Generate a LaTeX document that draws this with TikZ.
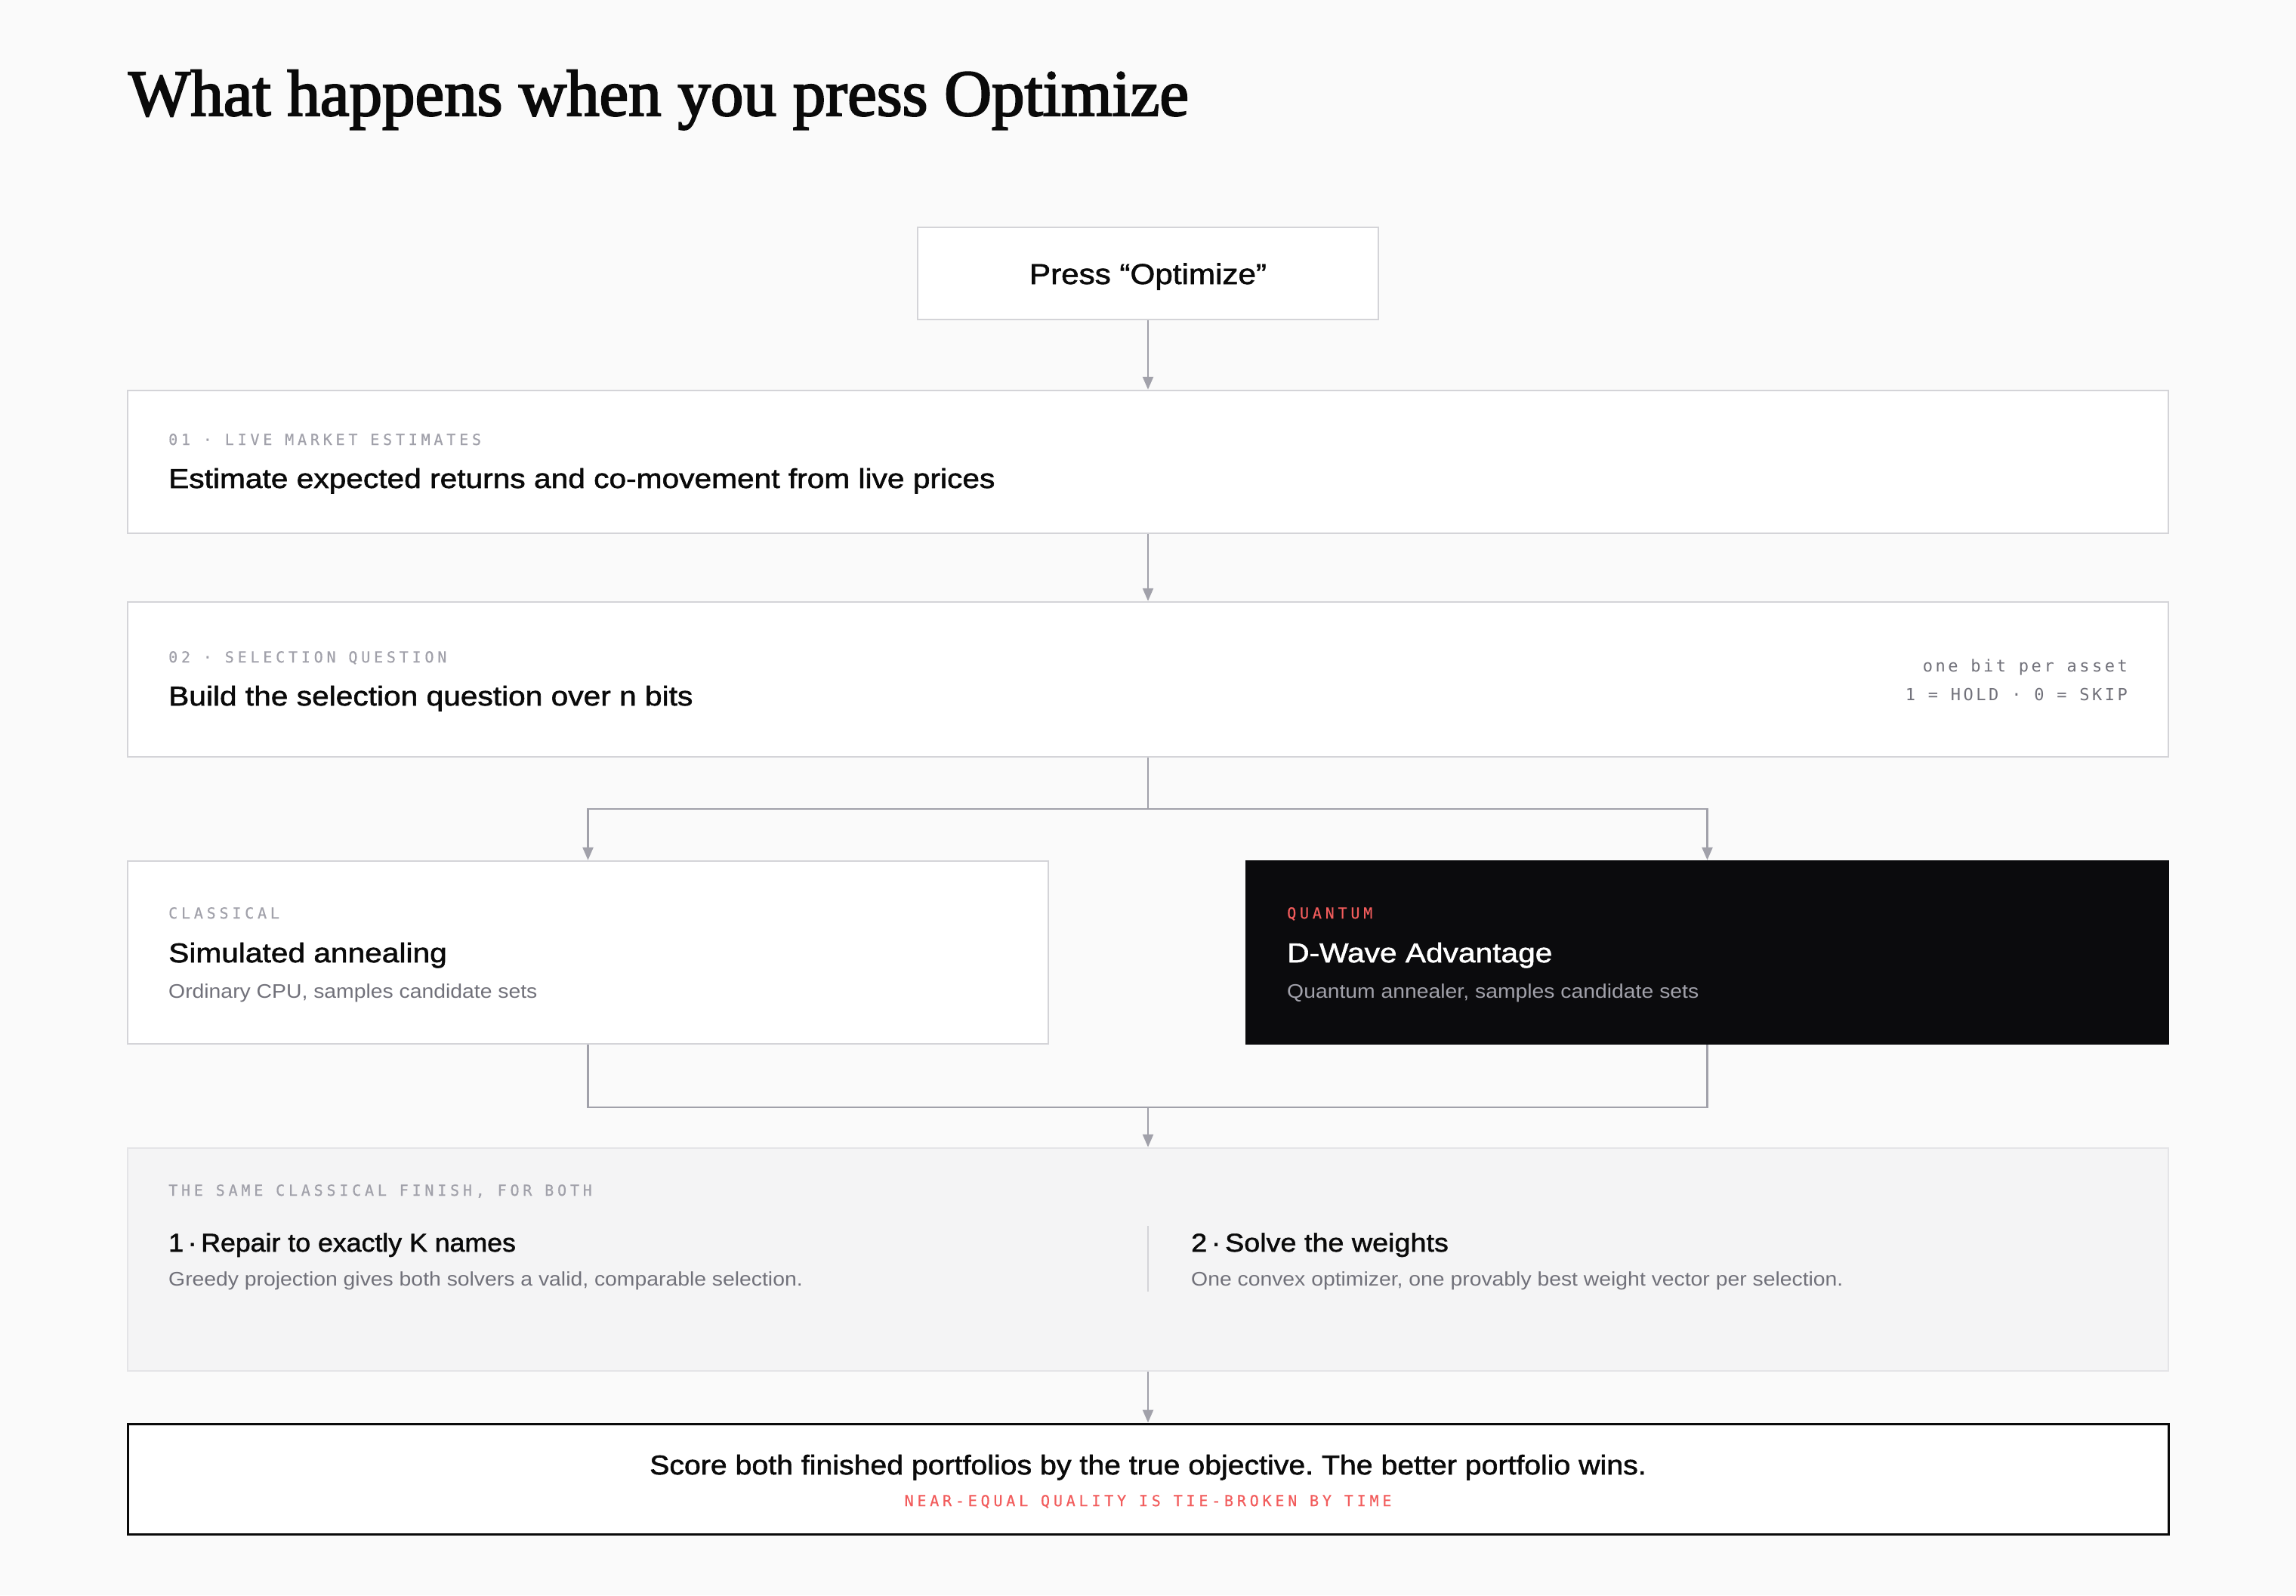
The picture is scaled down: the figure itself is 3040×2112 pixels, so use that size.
\documentclass[tikz,border=0pt]{standalone}
\usepackage{fontspec}
\setmainfont{Liberation Sans}
\newfontfamily\titlefont[FakeBold=2.5]{Liberation Serif}
\newfontfamily\headfont[FakeStretch=1.13,FakeBold=1.6]{Liberation Sans}
\newfontfamily\pressfont[FakeStretch=1.11,FakeBold=1.6]{Liberation Sans}
\newfontfamily\narrowfont[FakeStretch=1.05,FakeBold=1.6]{Liberation Sans}
\newfontfamily\scorefont[FakeStretch=1.09,FakeBold=1.6]{Liberation Sans}
\newfontfamily\subfont[FakeStretch=1.09]{Liberation Sans}
\newfontfamily\lblfont[LetterSpace=24,FakeBold=0.6]{DejaVu Sans Mono}
\newfontfamily\notefont[LetterSpace=16]{DejaVu Sans Mono}
\usetikzlibrary{arrows.meta}
\definecolor{bg}{HTML}{FAFAFA}
\definecolor{edge}{HTML}{D4D4D8}
\definecolor{conn}{HTML}{A1A1AA}
\definecolor{muted}{HTML}{71717A}
\definecolor{faint}{HTML}{A1A1AA}
\definecolor{ink}{HTML}{0A0A0A}
\definecolor{dark}{HTML}{0B0B0D}
\definecolor{accent}{HTML}{F25C5C}
\definecolor{panel}{HTML}{F4F4F5}
\definecolor{paneledge}{HTML}{E4E4E7}
\begin{document}
\frenchspacing
\begin{tikzpicture}[x=1pt,y=-1pt,
 box/.style={rectangle, inner sep=0pt, draw=edge, line width=2.5pt, fill=white},
 txt/.style={inner sep=0pt, anchor=base west},
 lbl/.style={txt, font=\lblfont\fontsize{20pt}{24pt}\selectfont, text=faint},
 note/.style={inner sep=0pt, anchor=base east, font=\notefont\fontsize{22pt}{26pt}\selectfont, text=muted},
 head/.style={txt, font=\headfont\fontsize{36pt}{42pt}\selectfont, text=ink},
 step head/.style={txt, font=\pressfont\fontsize{34pt}{40pt}\selectfont, text=ink},
 sub/.style={txt, font=\subfont\fontsize{26pt}{30pt}\selectfont, text=muted},
 link/.style={draw=conn, line width=2.5pt},
 arr/.style={link, -{Triangle[length=17pt,width=14pt]}},
]
\fill[bg] (0,0) rectangle (3040,2112);
\useasboundingbox (0,0) rectangle (3040,2112);

\node[txt, font=\titlefont\fontsize{87pt}{92pt}\selectfont, text=ink] (title) at (170,153) {What happens when you press Optimize};

% boxes
\node[box, minimum width=610pt, minimum height=122pt] (press) at (1520,362) {};
\node[inner sep=0pt, anchor=base, font=\pressfont\fontsize{38pt}{44pt}\selectfont, text=ink] (presst) at (1520,376) {Press “Optimize”};

\node[box, minimum width=2702pt, minimum height=189pt] (b1) at (1520,611.5) {};
\node[lbl] (b1l) at (223,589) {01 · LIVE MARKET ESTIMATES};
\node[head] (b1h) at (223,646) {Estimate expected returns and co-movement from live prices};

\node[box, minimum width=2702pt, minimum height=205pt] (b2) at (1520,899.5) {};
\node[lbl] (b2l) at (223,877) {02 · SELECTION QUESTION};
\node[head] (b2h) at (223,934) {Build the selection question over n bits};
\node[note] (b2n1) at (2817,889) {one bit per asset};
\node[note] (b2n2) at (2817,927) {1 = HOLD · 0 = SKIP};

\node[box, minimum width=1219pt, minimum height=242pt] (cl) at (778.5,1261) {};
\node[lbl] (cll) at (223,1216) {CLASSICAL};
\node[head] (clh) at (223,1274) {Simulated annealing};
\node[sub] (cls) at (223,1321) {Ordinary CPU, samples candidate sets};

\node[box, draw=dark, fill=dark, minimum width=1221pt, minimum height=242pt] (qu) at (2260.5,1261) {};
\node[lbl, text=accent] (qul) at (1704,1216) {QUANTUM};
\node[head, text=white] (quh) at (1704,1274) {D-Wave Advantage};
\node[sub, text=faint] (qus) at (1704,1321) {Quantum annealer, samples candidate sets};

\node[box, draw=paneledge, fill=panel, minimum width=2702pt, minimum height=295pt] (fin) at (1520,1667.5) {};
\node[lbl] (finl) at (223,1583) {THE SAME CLASSICAL FINISH, FOR BOTH};
\node[step head, font=\narrowfont\fontsize{34pt}{40pt}\selectfont] (fh1) at (223,1657) {1\,·\,Repair to exactly K names};
\node[sub] (fs1) at (223,1702) {Greedy projection gives both solvers a valid, comparable selection.};
\coordinate (dv1) at (1520,1623);
\coordinate (dv2) at (1520,1710);
\draw[draw=edge, line width=2pt] (dv1) -- (dv2);
\node[step head] (fh2) at (1577,1657) {2\,·\,Solve the weights};
\node[sub] (fs2) at (1577,1702) {One convex optimizer, one provably best weight vector per selection.};

\node[box, draw=ink, line width=3pt, minimum width=2702pt, minimum height=146pt] (sc) at (1520,1958) {};
\node[inner sep=0pt, anchor=base, font=\scorefont\fontsize{36pt}{42pt}\selectfont, text=ink] (sct) at (1520,1952) {Score both finished portfolios by the true objective. The better portfolio wins.};
\node[inner sep=0pt, anchor=base, font=\lblfont\fontsize{20pt}{24pt}\selectfont, text=accent] (scn) at (1520,1994) {NEAR-EQUAL QUALITY IS TIE-BROKEN BY TIME};

% connectors
\coordinate (split) at (1520,1071);
\coordinate (merge) at (1520,1466);
\draw[arr] (press.south) -- (b1.north);
\draw[arr] (b1.south) -- (b2.north);
\draw[link] (b2.south) -- (split);
\draw[arr] (split) -| (cl.north);
\draw[arr] (split) -| (qu.north);
\draw[link] (cl.south) |- (merge);
\draw[link] (qu.south) |- (merge);
\draw[arr] (merge) -- (fin.north);
\draw[arr] (fin.south) -- (sc.north);
\end{tikzpicture}
\end{document}
